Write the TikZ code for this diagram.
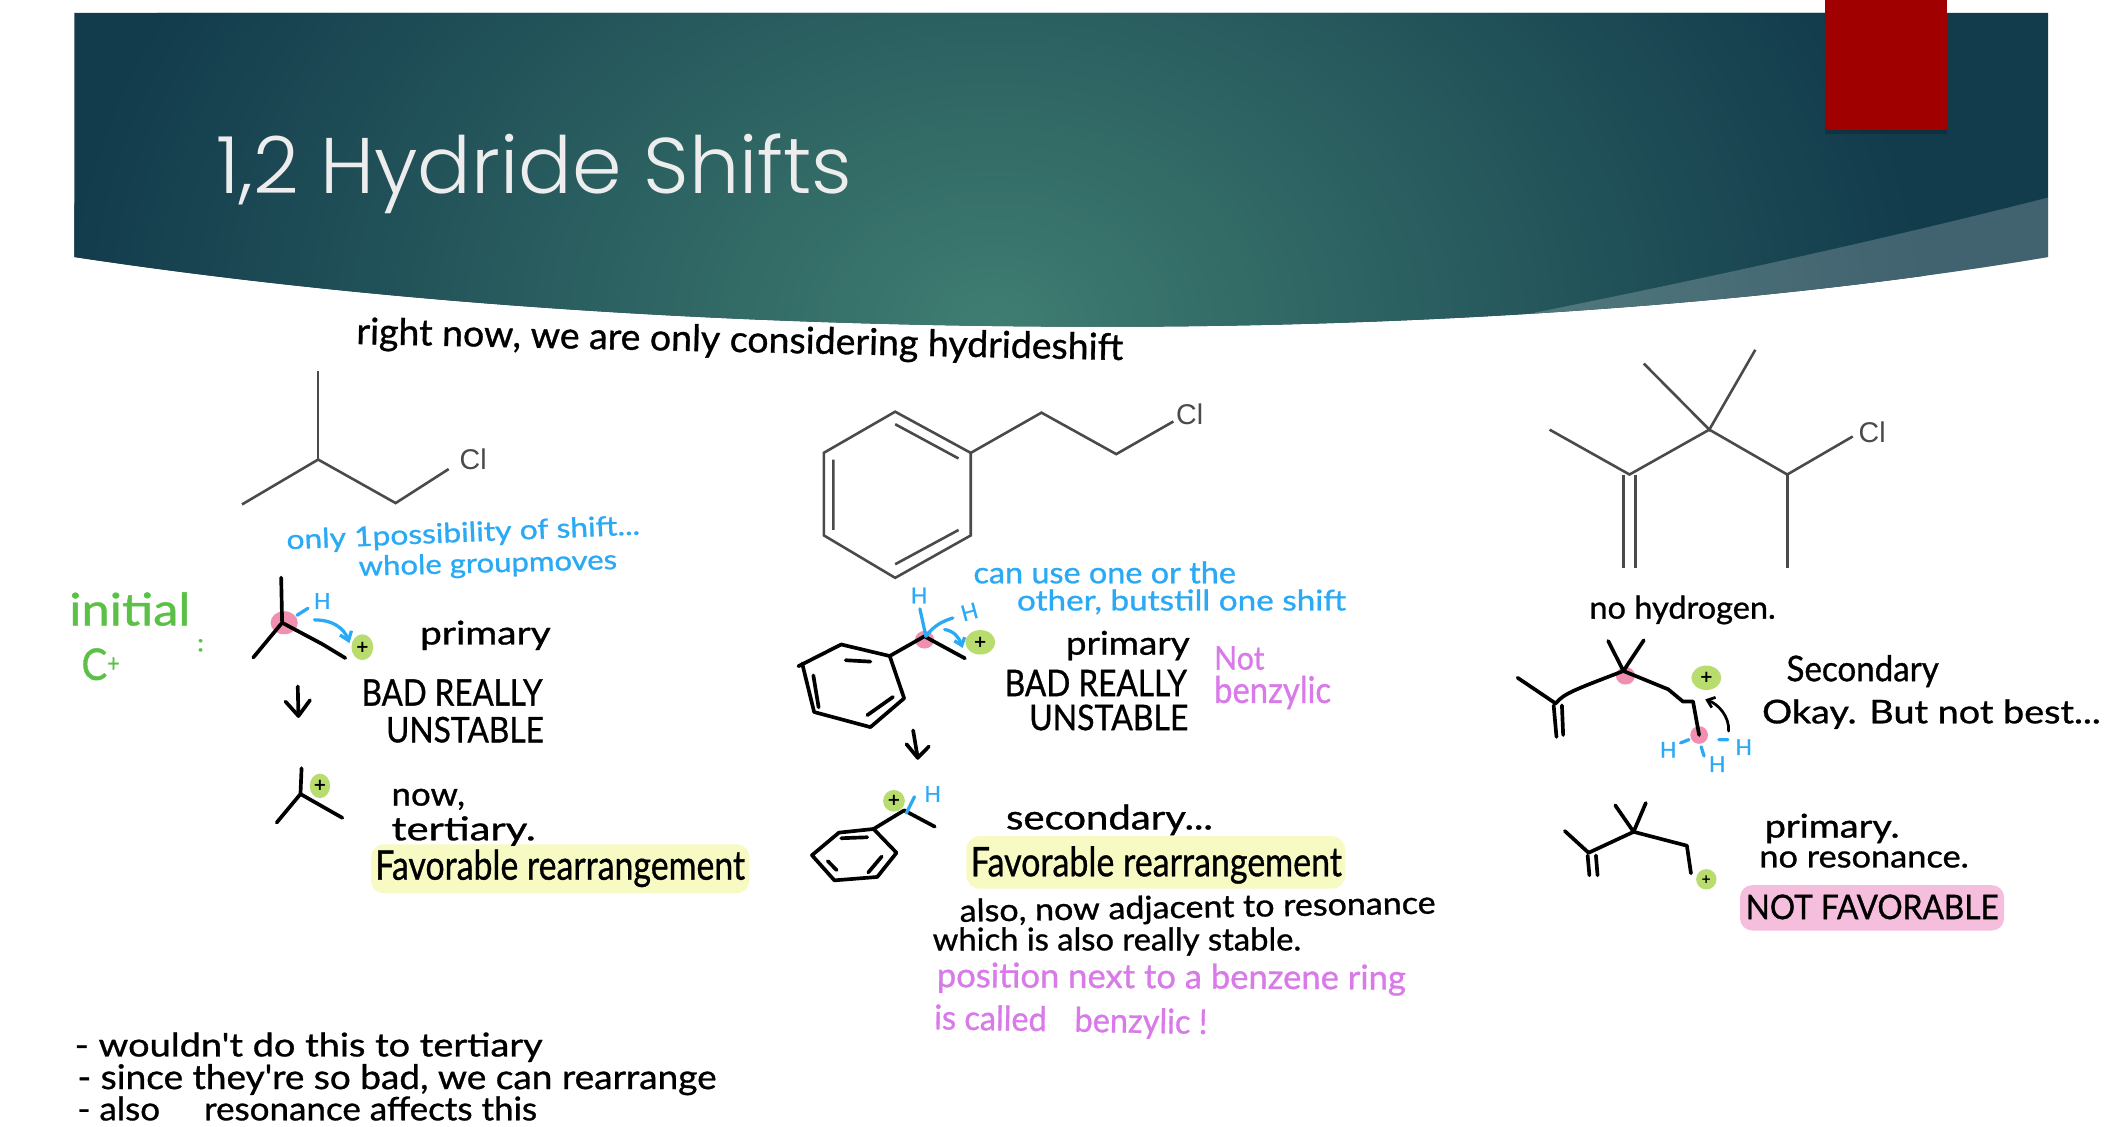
\documentclass[tikz,border=0pt]{standalone}
\usepackage{fontspec}
\usepackage{graphicx}
\usetikzlibrary{arrows.meta}
\newfontfamily\hand{Lato}[FakeBold=0.9]
\newfontfamily\titlef{Poppins Light}
\newfontfamily\chemf{Liberation Sans}
\newfontfamily\plusf{DejaVu Sans}
\definecolor{hblue}{HTML}{2AA9F5}
\definecolor{hgreen}{HTML}{5BC146}
\definecolor{hpink}{HTML}{D87BE8}
\definecolor{hlyellow}{HTML}{F7FBC3}
\definecolor{hlpink}{HTML}{F5BEDC}
\definecolor{blobgreen}{HTML}{B8DC6E}
\definecolor{blobpink}{HTML}{F08FB0}
\definecolor{bandark}{HTML}{123B4C}
\definecolor{banlight}{HTML}{3F7D71}
\definecolor{chemgray}{HTML}{4A4A4A}
\definecolor{slidered}{HTML}{A00000}
\newcommand\hw[3]{\resizebox{#2pt}{\height}{\hand\fontsize{#1}{#1}\selectfont #3}}
% name, x, y, rotation, colour, size, width, text
\newcommand\tx[8]{\node[txt,text=#5,rotate=#4] (#1) at (#2,#3) {\hw{#6}{#7}{#8}};}
\tikzset{
  txt/.style={anchor=base west,inner sep=0pt,outer sep=0pt},
  chem/.style={draw=chemgray,line width=1.9pt,line join=miter},
  chemlabel/.style={inner sep=0pt,text=chemgray,font=\chemf\fontsize{21}{21}\selectfont},
  ink/.style={draw=black,line width=2.7pt,line cap=round,line join=round},
  blueink/.style={draw=hblue,line width=2.4pt,line cap=round,line join=round},
  plusmark/.style={inner sep=0pt,text=black,font=\plusf\bfseries\fontsize{12}{12}\selectfont},
  hletter/.style={inner sep=0pt,text=hblue,font=\hand\fontsize{16}{16}\selectfont},
}
\begin{document}
\begin{tikzpicture}[x=1pt,y=-1pt]
\useasboundingbox (0,0) rectangle (1560,828.2);
\fill[white] (0,0) rectangle (1560,828.2);

% banner
\begin{scope}[xscale=0.995,yscale=0.995]
\begin{scope}
\clip (55,9.5) -- (1514,9.5) -- (1514,190) .. controls (1300,226) and (1050,241) .. (830,241.5)
   .. controls (600,242) and (320,230) .. (55,190) -- cycle;
\fill[bandark] (0,0) rectangle (1560,260);
\shade[inner color=banlight,outer color=bandark] (735,240) ellipse (690pt and 520pt);
\fill[white,opacity=0.2] (1130,232) .. controls (1290,200) and (1420,170) .. (1514,146) -- (1514,260) -- (1130,260) -- cycle;
\end{scope}
\fill[black,opacity=0.18] (1349,96) rectangle (1439,99);
\fill[slidered] (1349,0) rectangle (1439,96);
\end{scope}
\node[txt,text=white!93!black] (title) at (159,142) {\resizebox{468pt}{\height}{\titlef\fontsize{58}{58}\selectfont 1,2 Hydride Shifts}};

% sentence at top
\tx{t1}{262}{253}{-1.2}{black}{27}{564}{right now, we are only considering hydrideshift}

% bottom left notes
\tx{t13}{55}{777}{0}{black}{24}{344}{- wouldn't do this to tertiary}
\tx{t14}{57}{801}{0}{black}{25}{470}{- since they're so bad, we can rearrange}
\tx{t15}{57}{824}{0}{black}{24}{338}{- also\hspace{1em} resonance affects this}

% column 1
\begin{scope}[xshift=-1pt]
\fill[hlyellow,rounded corners=9pt] (274,621) rectangle (552,657);
\draw[chem] (235,273) -- (235,338);
\draw[chem] (179,371) -- (235,338) -- (292,370) -- (331,345);
\node[chemlabel] (cl1) at (349,338) {Cl};
\tx{t2}{212}{404}{2.4}{hblue}{20}{260}{only 1possibility of shift...}
\tx{t3}{265}{423.5}{1.5}{hblue}{20}{190}{whole groupmoves}
\tx{t4}{52}{460}{0}{hgreen}{33}{89}{initial}
\node[txt,text=hgreen] (t5) at (61,500) {\hw{32}{28}{C\raisebox{6pt}{\fontsize{18}{18}\selectfont +}}};
\tx{t6}{146}{479}{0}{hgreen}{18}{5}{:}
\fill[blobpink] (210,458) ellipse (10pt and 8.5pt);
\draw[ink] (207.8,424.8) -- (208.5,458) -- (187.3,483.6);
\draw[ink] (208.5,458) -- (238,473.7) -- (255,484);
\fill[blobgreen] (267.5,476) ellipse (8pt and 9.5pt);
\node[plusmark] (p1) at (267.5,476) {+};
\node[hletter] (h1) at (238,442) {H};
\draw[blueink] (219.5,452.5) -- (227.5,447.4);
\draw[blueink,-{Straight Barb[length=6pt,width=9pt]}] (232.3,455.9) .. controls (246,456) and (254,462) .. (258,473);
\draw[ink] (220,504.8) -- (220.5,526.6);
\draw[ink] (211,516) -- (220.5,526.6) -- (229,515);
\tx{t7}{310}{474}{0}{black}{24}{96}{primary}
\tx{t8}{267}{519}{0}{black}{27}{133}{BAD REALLY}
\tx{t9}{285}{546}{0}{black}{26}{116}{UNSTABLE}
\draw[ink] (222.8,565) -- (222,584) -- (204.5,605);
\draw[ink] (222,584) -- (252.8,601.5);
\fill[blobgreen] (236.3,578) ellipse (7.5pt and 9pt);
\node[plusmark] (p2) at (236.3,578) {+};
\tx{t10}{289}{592.5}{0}{black}{24}{54}{now,}
\tx{t11}{289}{618}{0}{black}{24}{106}{tertiary.}
\tx{t12}{277}{647}{0}{black}{30}{272}{Favorable rearrangement}
\end{scope}

% column 2
\begin{scope}[xshift=-3pt]
\fill[hlyellow,rounded corners=10pt] (713.7,615) rectangle (992.4,653.6);
\draw[chem] (661.4,302.8) -- (717,333.1) -- (717,393.8) -- (661.4,425) -- (609,393.8) -- (609,333) -- cycle;
\draw[chem] (661.4,312) -- (708,337.2) (616,338) -- (616,389.8) (661.4,415) -- (708,389.8);
\draw[chem] (717,333.1) -- (769,303.5) -- (824,334) -- (866,310);
\node[chemlabel] (cl2) at (878,305) {Cl};
\tx{t16}{719}{429}{0}{hblue}{22}{193}{can use one or the}
\tx{t17}{751}{449}{0}{hblue}{21}{242}{other, butstill one shift}
\fill[blobpink] (683,470.5) ellipse (7pt and 6.5pt);
\draw[ink] (590.2,490) -- (621.7,474) -- (657.4,482.5) -- (668,513.6) -- (643.2,534.8) -- (601.8,523.7) -- (593,488);
\draw[ink] (625,485.6) -- (643.2,486.6) (601.2,496.7) -- (605.1,520.3) (640.9,526) -- (659.8,512.6);
\draw[ink] (657.4,482.5) -- (682.9,468) -- (712.7,484.2);
\draw[blueink] (679.6,447.8) -- (684,468) .. controls (690,460) and (696,457) .. (703.8,454.5);
\draw[blueink,-{Straight Barb[length=5pt,width=8pt]}] (697.8,463) .. controls (704,464) and (708,468) .. (711,476.5);
\fill[blobgreen] (724,472.4) ellipse (11pt and 9pt);
\node[plusmark] (p3) at (724,472.4) {+};
\node[hletter] (h2) at (679,438) {H};
\node[hletter,rotate=15] (h3) at (716,450) {H};
\tx{t18}{787}{481.5}{0}{black}{24}{91}{primary}
\tx{t19}{742}{512}{0}{black}{27}{134}{BAD REALLY}
\tx{t20}{760}{537}{0}{black}{26}{117}{UNSTABLE}
\tx{t21}{896}{492.5}{0}{hpink}{24}{37}{Not}
\tx{t22}{896}{517}{0}{hpink}{27}{86}{benzylic}
\draw[ink] (674.6,537.2) -- (678,557.4);
\draw[ink] (669.7,547.3) -- (678,557.4) -- (686.2,549);
\draw[ink] (645.5,609.7) -- (620,612.4) -- (600.2,629) -- (616.7,647.5) -- (648.2,645) -- (662.4,627.2) -- cycle;
\draw[ink] (621.7,616.5) -- (640.9,615.8) (611.8,633.3) -- (618.4,640) (641.6,641.7) -- (651.5,630);
\draw[ink] (645.5,609.7) -- (668,596) -- (690.5,608);
\fill[blobgreen] (660.5,589) ellipse (8pt and 8pt);
\node[plusmark] (p4) at (660.5,589) {+};
\draw[blueink] (669.7,597.9) -- (675.6,586);
\node[hletter] (h4) at (689,584) {H};
\tx{t23}{743}{610}{0}{black}{25}{152}{secondary...}
\tx{t24}{717}{644.5}{0}{black}{30}{273}{Favorable rearrangement}
\tx{t25}{709}{678}{1}{black}{23}{350}{also, now adjacent to resonance}
\tx{t26}{689}{699}{0}{black}{23}{271}{which is also really stable.}
\tx{t27}{692}{726}{-0.3}{hpink}{25}{345}{position next to a benzene ring}
\tx{t28}{690}{757}{-1}{hpink}{25}{201}{is called\hspace{0.6em} benzylic !}
\end{scope}

% column 3
\begin{scope}[xshift=-6pt]
\fill[hlpink,rounded corners=9pt] (1285.8,651) rectangle (1480,684.4);
\draw[chem] (1145.7,316) -- (1204.5,349) -- (1263.2,316) -- (1320.5,349) -- (1368.7,321);
\draw[chem] (1215,267.4) -- (1263.2,316) -- (1297,257.3);
\draw[chem] (1320.5,349) -- (1320.5,418);
\draw[chem] (1200,349) -- (1200,418) (1209,349) -- (1209,418);
\node[chemlabel] (cl3) at (1383,318) {Cl};
\tx{t29}{1175}{455}{0}{black}{23}{137}{no hydrogen.}
\fill[blobpink] (1201.5,497) ellipse (7pt and 6.5pt);
\fill[blobpink] (1255.7,540.6) ellipse (6.5pt and 6.5pt);
\draw[ink] (1122.2,498.5) -- (1150.2,517.4) .. controls (1156,510) and (1165,507) .. (1200,493.5) -- (1233,507) -- (1243.7,515.9) -- (1251.2,515.9) -- (1255.7,540.6);
\draw[ink] (1188.8,471.4) -- (1200,493.5) -- (1215,470.9);
\draw[ink] (1148.7,518.8) -- (1150.8,542) (1154.8,518.8) -- (1155.7,540.6);
\fill[blobgreen] (1261,498.5) ellipse (11pt and 9pt);
\node[plusmark] (p5) at (1261,498.5) {+};
\draw[draw=black,line width=2pt,line cap=round,-{Straight Barb[length=5pt,width=8pt]}] (1277.4,537.7) .. controls (1278,527) and (1270,518) .. (1260.2,514.4);
\node[hletter] (h5) at (1233,551.5) {H};
\node[hletter] (h6) at (1288.5,549.5) {H};
\node[hletter] (h7) at (1269,562) {H};
\draw[blueink] (1242.1,546.4) -- (1248.2,544) (1270.2,544) -- (1276.8,544) (1257.2,549.3) -- (1259.3,556);
\tx{t30}{1320}{501}{0}{black}{26}{112}{Secondary}
\tx{t31}{1302}{532}{0}{black}{24}{249}{Okay. But not best...}
\draw[ink] (1156.9,611.2) -- (1174.4,627.2) -- (1207.5,611.8) -- (1246.7,622) -- (1249.7,642.3);
\draw[ink] (1194,592.3) -- (1207.5,611.8) -- (1216.5,590.6);
\draw[ink] (1173.7,629.2) -- (1175,643.8) (1179.8,629.2) -- (1181,643.8);
\fill[blobgreen] (1261,646.7) ellipse (7.5pt and 7.5pt);
\node[plusmark,font=\plusf\bfseries\fontsize{9}{9}\selectfont] (p6) at (1261,646.7) {+};
\tx{t32}{1304}{616}{0}{black}{24}{99}{primary.}
\tx{t33}{1300}{638}{0}{black}{23}{154}{no resonance.}
\tx{t34}{1290}{676}{0}{black}{25}{186}{NOT FAVORABLE}
\end{scope}
\end{tikzpicture}
\end{document}
